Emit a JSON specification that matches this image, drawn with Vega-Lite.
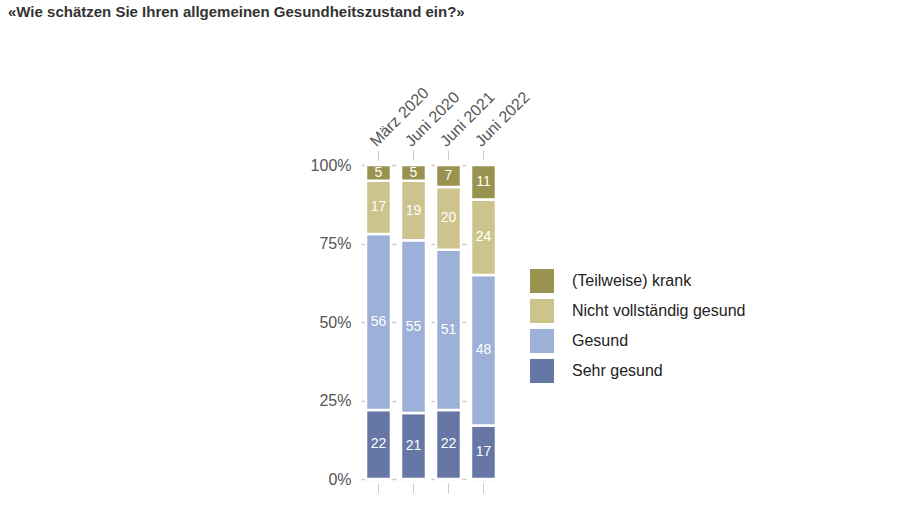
{
  "$schema": "https://vega.github.io/schema/vega-lite/v6.json",
  "autosize": "none",
  "width": 140,
  "height": 314,
  "padding": {"left": 361, "top": 165, "right": 399, "bottom": 43},
  "background": "white",
  "title": {
    "text": "«Wie schätzen Sie Ihren allgemeinen Gesundheitszustand ein?»",
    "anchor": "start",
    "frame": "group",
    "dx": -353,
    "dy": -60,
    "font": "Liberation Sans",
    "fontSize": 15,
    "fontWeight": "bold",
    "color": "#333333"
  },
  "data": {
    "values": [
      {"period": "März 2020", "category": "Sehr gesund", "value": 22, "rank": 1},
      {"period": "März 2020", "category": "Gesund", "value": 56, "rank": 2},
      {"period": "März 2020", "category": "Nicht vollständig gesund", "value": 17, "rank": 3},
      {"period": "März 2020", "category": "(Teilweise) krank", "value": 5, "rank": 4},
      {"period": "Juni 2020", "category": "Sehr gesund", "value": 21, "rank": 1},
      {"period": "Juni 2020", "category": "Gesund", "value": 55, "rank": 2},
      {"period": "Juni 2020", "category": "Nicht vollständig gesund", "value": 19, "rank": 3},
      {"period": "Juni 2020", "category": "(Teilweise) krank", "value": 5, "rank": 4},
      {"period": "Juni 2021", "category": "Sehr gesund", "value": 22, "rank": 1},
      {"period": "Juni 2021", "category": "Gesund", "value": 51, "rank": 2},
      {"period": "Juni 2021", "category": "Nicht vollständig gesund", "value": 20, "rank": 3},
      {"period": "Juni 2021", "category": "(Teilweise) krank", "value": 7, "rank": 4},
      {"period": "Juni 2022", "category": "Sehr gesund", "value": 17, "rank": 1},
      {"period": "Juni 2022", "category": "Gesund", "value": 48, "rank": 2},
      {"period": "Juni 2022", "category": "Nicht vollständig gesund", "value": 24, "rank": 3},
      {"period": "Juni 2022", "category": "(Teilweise) krank", "value": 11, "rank": 4}
    ]
  },
  "transform": [
    {"stack": "value", "groupby": ["period"], "sort": [{"field": "rank", "order": "ascending"}], "offset": "normalize", "as": ["y0", "y1"]},
    {"calculate": "(datum.y0 + datum.y1) / 2", "as": "ymid"}
  ],
  "encoding": {
    "x": {
      "field": "period",
      "type": "nominal",
      "sort": ["März 2020", "Juni 2020", "Juni 2021", "Juni 2022"],
      "scale": {"paddingInner": 0.286, "paddingOuter": 0.143}
    }
  },
  "layer": [
    {
      "mark": {"type": "bar", "stroke": "white", "strokeWidth": 2.5},
      "encoding": {
        "x": {
          "field": "period",
          "type": "nominal",
          "sort": ["März 2020", "Juni 2020", "Juni 2021", "Juni 2022"],
          "axis": {
            "orient": "top",
            "title": null,
            "labelAngle": -45,
            "labelFont": "Liberation Sans",
            "labelFontSize": 16,
            "labelColor": "#555555",
            "domain": false,
            "ticks": true,
            "tickSize": 10,
            "tickColor": "#cccccc",
            "offset": 5,
            "labelPadding": 1
          }
        },
        "y": {
          "field": "y0",
          "type": "quantitative",
          "scale": {"domain": [0, 1]},
          "axis": {
            "title": null,
            "format": ".0%",
            "values": [0, 0.25, 0.5, 0.75, 1],
            "labelFont": "Liberation Sans",
            "labelFontSize": 16,
            "labelColor": "#555555",
            "domain": false,
            "ticks": false,
            "labelPadding": 10,
            "grid": true,
            "gridDash": [5, 5],
            "gridColor": "#cccccc",
            "gridWidth": 1.5
          }
        },
        "y2": {"field": "y1"},
        "color": {
          "field": "category",
          "type": "nominal",
          "scale": {
            "domain": ["(Teilweise) krank", "Nicht vollständig gesund", "Gesund", "Sehr gesund"],
            "range": ["#9a934f", "#cdc48d", "#9db0d8", "#6677a6"]
          },
          "legend": {
            "orient": "none",
            "legendX": 169,
            "legendY": 104,
            "title": null,
            "padding": 0,
            "symbolType": "square",
            "symbolSize": 576,
            "symbolStrokeWidth": 0,
            "symbolOpacity": 1,
            "rowPadding": 6,
            "labelOffset": 18,
            "labelLimit": 300,
            "labelFont": "Liberation Sans",
            "labelFontSize": 16,
            "labelColor": "#222222"
          }
        }
      }
    },
    {
      "mark": {"type": "text", "color": "white", "font": "Liberation Sans", "fontSize": 14},
      "encoding": {
        "x": {
          "field": "period",
          "type": "nominal",
          "sort": ["März 2020", "Juni 2020", "Juni 2021", "Juni 2022"],
          "axis": {
            "orient": "bottom",
            "title": null,
            "labels": false,
            "domain": false,
            "ticks": true,
            "tickSize": 10,
            "tickColor": "#cccccc",
            "offset": 4
          }
        },
        "y": {"field": "ymid", "type": "quantitative"},
        "text": {"field": "value", "type": "quantitative"}
      }
    }
  ],
  "resolve": {"axis": {"x": "independent"}},
  "config": {"view": {"stroke": null}}
}
